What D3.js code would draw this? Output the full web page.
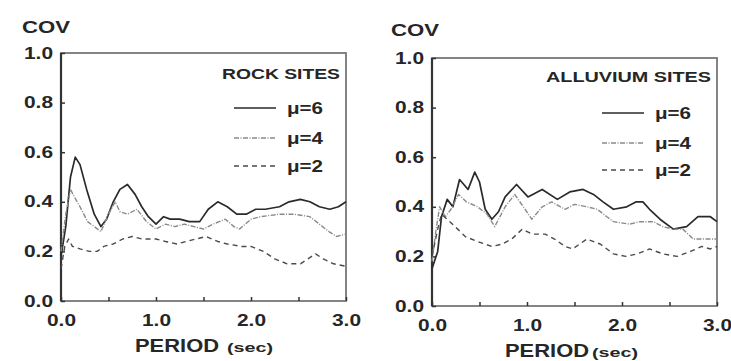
<!DOCTYPE html>
<html>
<head>
<meta charset="utf-8">
<script src="https://cdn.jsdelivr.net/npm/d3@7"></script>
<style>
  body { margin: 0; background: #fff; }
  text { font-family: "Liberation Sans", Arial, sans-serif; fill: #262626; font-weight: bold; }
</style>
</head>
<body>
<div id="chart-area"></div>
<script>
// data: [period (sec), COV]
var xTicks = [0, 1, 2, 3];
var yTicks = [0, 0.2, 0.4, 0.6, 0.8, 1.0];
var seriesNames = ["μ=6", "μ=4", "μ=2"];
var panelTitles = ["ROCK SITES", "ALLUVIUM SITES"];

var rockMu6 = [[0.0,0.18],[0.05,0.30],[0.1,0.50],[0.15,0.58],[0.2,0.55],[0.27,0.45],[0.35,0.35],[0.42,0.30],[0.48,0.33],[0.55,0.40],[0.62,0.45],[0.7,0.47],[0.78,0.43],[0.85,0.38],[0.92,0.34],[1.0,0.31],[1.08,0.34],[1.15,0.33],[1.25,0.33],[1.35,0.32],[1.46,0.32],[1.55,0.37],[1.65,0.40],[1.75,0.38],[1.85,0.35],[1.95,0.35],[2.05,0.37],[2.15,0.37],[2.3,0.38],[2.4,0.40],[2.52,0.41],[2.62,0.40],[2.72,0.38],[2.83,0.37],[2.92,0.38],[3.0,0.40]];
var rockMu4 = [[0.0,0.20],[0.05,0.35],[0.1,0.45],[0.14,0.42],[0.2,0.38],[0.28,0.32],[0.35,0.30],[0.42,0.28],[0.5,0.35],[0.57,0.40],[0.62,0.36],[0.7,0.35],[0.8,0.37],[0.9,0.32],[1.0,0.29],[1.1,0.31],[1.2,0.30],[1.3,0.31],[1.4,0.30],[1.5,0.29],[1.6,0.31],[1.73,0.33],[1.82,0.30],[1.88,0.29],[2.0,0.33],[2.1,0.34],[2.3,0.35],[2.45,0.35],[2.62,0.34],[2.72,0.31],[2.82,0.28],[2.9,0.26],[3.0,0.27]];
var rockMu2 = [[0.0,0.13],[0.04,0.22],[0.08,0.25],[0.12,0.22],[0.2,0.21],[0.3,0.20],[0.38,0.20],[0.45,0.22],[0.55,0.23],[0.65,0.25],[0.75,0.26],[0.85,0.25],[1.0,0.25],[1.1,0.24],[1.22,0.23],[1.32,0.24],[1.42,0.25],[1.53,0.26],[1.65,0.24],[1.75,0.23],[1.9,0.22],[2.0,0.22],[2.13,0.20],[2.25,0.17],[2.38,0.15],[2.52,0.15],[2.6,0.17],[2.68,0.19],[2.76,0.17],[2.87,0.15],[3.0,0.14]];

var alluMu6 = [[0.0,0.15],[0.06,0.22],[0.1,0.36],[0.16,0.43],[0.22,0.40],[0.29,0.51],[0.38,0.47],[0.45,0.54],[0.5,0.50],[0.56,0.39],[0.63,0.35],[0.7,0.38],[0.77,0.44],[0.89,0.49],[1.01,0.44],[1.16,0.47],[1.32,0.43],[1.45,0.46],[1.59,0.47],[1.7,0.45],[1.8,0.42],[1.91,0.39],[2.05,0.40],[2.15,0.42],[2.22,0.42],[2.29,0.39],[2.4,0.35],[2.54,0.31],[2.68,0.32],[2.8,0.36],[2.93,0.36],[3.0,0.34]];
var alluMu4 = [[0.0,0.18],[0.04,0.30],[0.08,0.40],[0.14,0.36],[0.2,0.39],[0.28,0.45],[0.36,0.42],[0.48,0.40],[0.58,0.37],[0.66,0.32],[0.77,0.40],[0.87,0.45],[0.98,0.39],[1.05,0.35],[1.16,0.40],[1.26,0.42],[1.4,0.39],[1.5,0.41],[1.63,0.40],[1.74,0.39],[1.84,0.36],[1.91,0.34],[2.08,0.33],[2.19,0.34],[2.33,0.34],[2.43,0.32],[2.54,0.31],[2.64,0.31],[2.75,0.27],[2.89,0.27],[3.0,0.27]];
var alluMu2 = [[0.0,0.20],[0.06,0.31],[0.1,0.37],[0.16,0.35],[0.27,0.31],[0.35,0.28],[0.48,0.26],[0.63,0.24],[0.74,0.25],[0.84,0.27],[0.95,0.31],[1.05,0.29],[1.19,0.29],[1.29,0.27],[1.4,0.24],[1.48,0.23],[1.63,0.27],[1.77,0.25],[1.91,0.21],[2.04,0.20],[2.16,0.21],[2.29,0.23],[2.43,0.21],[2.58,0.20],[2.72,0.22],[2.84,0.24],[2.93,0.23],[3.0,0.24]];

var W = 731, H = 361;
var svg = d3.select("#chart-area").append("svg")
	.attr("width", W).attr("height", H);

var styles = [
	{ stroke: "#2a2a2a", width: 1.7, dash: null },
	{ stroke: "#8a8a8a", width: 1.4, dash: "5,1.5,1,1.5" },
	{ stroke: "#4a4a4a", width: 1.4, dash: "5,4" }
];

// panel boxes
var panels = [
	{ left: 61, right: 346, top: 53, bottom: 301, title: panelTitles[0], titleW: 118, titleY: 79,
	  series: [rockMu6, rockMu4, rockMu2],
	  covX: 22, covY: 33, legX: 234, legY: [108, 138, 166],
	  perX: 135, perY: 352, secX: 227 },
	{ left: 432, right: 717, top: 58, bottom: 306, title: panelTitles[1], titleW: 165, titleY: 82,
	  series: [alluMu6, alluMu4, alluMu2],
	  covX: 391, covY: 36, legX: 602, legY: [113, 143, 170],
	  perX: 505, perY: 357, secX: 592 }
];

panels.forEach(function(p) {
	var x = d3.scaleLinear().domain([0, 3]).range([p.left, p.right]);
	var y = d3.scaleLinear().domain([0, 1]).range([p.bottom, p.top]);
	var g = svg.append("g");

	// frame
	g.append("rect")
		.attr("x", p.left).attr("y", p.top)
		.attr("width", p.right - p.left).attr("height", p.bottom - p.top)
		.attr("fill", "none").attr("stroke", "#777").attr("stroke-width", 1.8);
	g.append("line")
		.attr("x1", p.left).attr("x2", p.left).attr("y1", p.top).attr("y2", p.bottom)
		.attr("stroke", "#333").attr("stroke-width", 2.2);

	// axes
	var yAxis = d3.axisLeft(y).tickValues(yTicks).tickFormat(d3.format(".1f"))
		.tickSizeInner(-4).tickSizeOuter(0).tickPadding(8);
	var ya = g.append("g").attr("transform", "translate(" + p.left + ",0)").call(yAxis);
	var xAxis = d3.axisBottom(x).tickValues(d3.range(0, 3.01, 0.5))
		.tickFormat(function(d) { return xTicks.indexOf(d) >= 0 ? d3.format(".1f")(d) : ""; })
		.tickSizeInner(-4).tickSizeOuter(0).tickPadding(10);
	var xa = g.append("g").attr("transform", "translate(0," + p.bottom + ")").call(xAxis);
	[ya, xa].forEach(function(a) {
		a.select(".domain").remove();
		a.selectAll("line").attr("stroke", "#333").attr("stroke-width", 1.5);
		a.selectAll("text").attr("font-size", 16).attr("font-weight", "bold").attr("fill", "#333")
			.style("font-family", "'Liberation Sans', Arial, sans-serif");
	});
	ya.selectAll(".tick text").attr("textLength", 29).attr("lengthAdjust", "spacingAndGlyphs");
	xa.selectAll(".tick text").filter(function() { return this.textContent !== ""; })
		.attr("textLength", 29).attr("lengthAdjust", "spacingAndGlyphs").attr("dy", "0.95em");

	// labels
	g.append("text").attr("x", p.covX).attr("y", p.covY)
		.attr("font-size", 17).attr("textLength", 48).attr("lengthAdjust", "spacingAndGlyphs")
		.text("COV");
	g.append("text").attr("x", p.perX).attr("y", p.perY)
		.attr("font-size", 18).attr("textLength", 84).attr("lengthAdjust", "spacingAndGlyphs")
		.text("PERIOD");
	g.append("text").attr("x", p.secX).attr("y", p.perY)
		.attr("font-size", 13).attr("textLength", 46).attr("lengthAdjust", "spacingAndGlyphs")
		.text("(sec)");

	g.append("text").attr("x", p.right - 6 - p.titleW).attr("y", p.titleY)
		.attr("font-size", 15).attr("textLength", p.titleW).attr("lengthAdjust", "spacingAndGlyphs")
		.text(p.title);

	// lines
	var line = d3.line().x(function(d) { return x(d[0]); }).y(function(d) { return y(d[1]); });
	p.series.forEach(function(s, i) {
		g.append("path").datum(s)
			.attr("d", line)
			.attr("fill", "none")
			.attr("stroke", styles[i].stroke)
			.attr("stroke-width", styles[i].width)
			.attr("stroke-dasharray", styles[i].dash)
			.attr("stroke-linejoin", "round");
	});

	// legend
	seriesNames.forEach(function(name, i) {
		g.append("line")
			.attr("x1", p.legX).attr("x2", p.legX + 42)
			.attr("y1", p.legY[i]).attr("y2", p.legY[i])
			.attr("stroke", styles[i].stroke)
			.attr("stroke-width", styles[i].width)
			.attr("stroke-dasharray", styles[i].dash);
		g.append("text").attr("x", p.legX + 53).attr("y", p.legY[i] + 6)
			.attr("font-size", 16).attr("textLength", 36).attr("lengthAdjust", "spacingAndGlyphs")
			.text(name);
	});
});
</script>
</body>
</html>
